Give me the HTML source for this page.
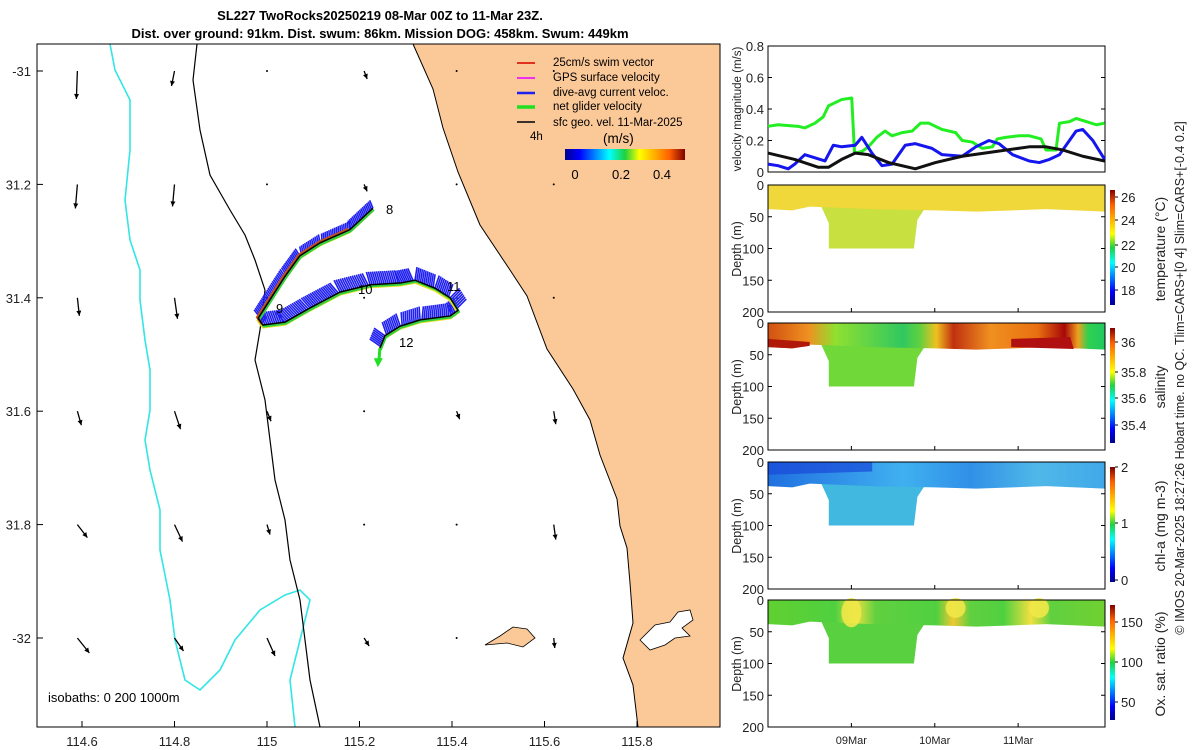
<!DOCTYPE html>
<html><head><meta charset="utf-8"><style>
html,body{margin:0;padding:0;background:#fff}
svg{display:block;font-family:"Liberation Sans","DejaVu Sans",sans-serif}
</style></head><body>
<svg id="fig" width="1200" height="750" viewBox="0 0 1200 750" xmlns="http://www.w3.org/2000/svg">
<defs>
<linearGradient id="jetH" x1="0" x2="1" y1="0" y2="0">
<stop offset="0" stop-color="#00008f"/><stop offset="0.12" stop-color="#0000ff"/><stop offset="0.37" stop-color="#00ffff"/><stop offset="0.5" stop-color="#20d040"/><stop offset="0.62" stop-color="#ffff00"/><stop offset="0.87" stop-color="#ff6000"/><stop offset="1" stop-color="#800000"/></linearGradient>
<linearGradient id="jetV" x1="0" x2="0" y1="1" y2="0">
<stop offset="0" stop-color="#00008f"/><stop offset="0.12" stop-color="#0000ff"/><stop offset="0.37" stop-color="#00ffff"/><stop offset="0.5" stop-color="#20d040"/><stop offset="0.62" stop-color="#ffff00"/><stop offset="0.87" stop-color="#ff6000"/><stop offset="1" stop-color="#800000"/></linearGradient>
<linearGradient id="salS" x1="768" x2="1105" gradientUnits="userSpaceOnUse">
<stop offset="0" stop-color="#d05010"/><stop offset="0.12" stop-color="#f09020"/><stop offset="0.2" stop-color="#90e030"/><stop offset="0.4" stop-color="#30c860"/><stop offset="0.45" stop-color="#60d040"/><stop offset="0.5" stop-color="#f0c020"/><stop offset="0.55" stop-color="#c03010"/><stop offset="0.66" stop-color="#f09020"/><stop offset="0.8" stop-color="#e87010"/><stop offset="0.88" stop-color="#a80808"/><stop offset="0.92" stop-color="#f0a020"/><stop offset="0.95" stop-color="#30d050"/><stop offset="1" stop-color="#20c860"/></linearGradient>
<linearGradient id="oxS" x1="768" x2="1105" gradientUnits="userSpaceOnUse">
<stop offset="0" stop-color="#60d030"/><stop offset="0.2" stop-color="#50d040"/><stop offset="0.26" stop-color="#e8e040"/><stop offset="0.32" stop-color="#60d040"/><stop offset="0.5" stop-color="#50d040"/><stop offset="0.55" stop-color="#f0c830"/><stop offset="0.6" stop-color="#60d040"/><stop offset="0.7" stop-color="#50d040"/><stop offset="0.78" stop-color="#f0e040"/><stop offset="0.84" stop-color="#60d040"/><stop offset="1" stop-color="#70d030"/></linearGradient>
<linearGradient id="chlS" x1="768" x2="1105" gradientUnits="userSpaceOnUse">
<stop offset="0" stop-color="#2070e0"/><stop offset="0.2" stop-color="#3090e8"/><stop offset="0.4" stop-color="#40b0f0"/><stop offset="0.6" stop-color="#3090e8"/><stop offset="0.8" stop-color="#50b8e8"/><stop offset="1" stop-color="#40a8e8"/></linearGradient>
</defs>

<text x="380" y="20" text-anchor="middle" font-size="13" font-weight="bold">SL227 TwoRocks20250219 08-Mar 00Z to 11-Mar 23Z.</text>
<text x="380" y="38" text-anchor="middle" font-size="13" font-weight="bold">Dist. over ground: 91km. Dist. swum: 86km. Mission DOG: 458km. Swum: 449km</text>

<g id="map">
<rect x="37" y="44" width="683" height="683" fill="#fff"/>
<polygon fill="#fbc898" stroke="#000" stroke-width="1" points="413,44 433,89 443,128 458,172 480,225 510,270 527,296 547,349 573,389 590,420 600,455 617,499 620,526 627,548 630,583 633,623 623,658 633,685 638,727 720,727 720,44"/>
<polygon fill="#fff" stroke="#000" stroke-width="0.8" points="640,640 655,625 670,622 678,612 690,610 693,620 682,628 690,636 675,638 665,645 650,650"/>
<polygon fill="#fbc898" stroke="#000" stroke-width="0.8" points="485,645 500,636 513,627 527,629 535,638 523,647 507,643"/>
<polyline fill="none" stroke="#33e5e5" stroke-width="1.6" points="110,44 115,70 130,100 130,150 125,200 130,240 140,270 140,300 145,340 150,370 150,410 145,440 150,470 160,510 160,550 170,600 175,640 185,680 200,690 220,670 235,640 260,610 285,595 300,590 310,600 300,640 290,680 295,727"/>
<polyline fill="none" stroke="#000" stroke-width="1.2" points="197,44 193,80 200,130 210,175 230,210 245,235 255,260 265,290 260,330 255,360 265,400 270,440 275,480 285,520 290,560 300,600 305,640 310,680 320,727"/>
<g id="arrows"></g>
<g id="track"></g>
<text x="386" y="214" font-size="13">8</text>
<text x="276" y="313" font-size="13">9</text>
<text x="358" y="294" font-size="13">10</text>
<text x="447" y="291" font-size="13">11</text>
<text x="399" y="347" font-size="13">12</text>
<g font-size="11.5">
<line x1="517" y1="63" x2="535" y2="63" stroke="#e03020" stroke-width="2"/><text x="553" y="66">25cm/s swim vector</text>
<line x1="517" y1="78" x2="535" y2="78" stroke="#f030f0" stroke-width="2"/><text x="553" y="81">GPS surface velocity</text>
<line x1="517" y1="93" x2="535" y2="93" stroke="#2020f0" stroke-width="2.5"/><text x="553" y="96">dive-avg current veloc.</text>
<line x1="517" y1="107" x2="535" y2="107" stroke="#20e020" stroke-width="3.5"/><text x="553" y="110">net glider velocity</text>
<line x1="517" y1="122" x2="535" y2="122" stroke="#000" stroke-width="1.5"/><text x="553" y="126">sfc geo. vel. 11-Mar-2025</text>
<text x="530" y="140">4h</text>
<text x="603" y="143" font-size="13.5">(m/s)</text>
<rect x="565" y="149" width="120" height="11" fill="url(#jetH)"/>
<text x="575" y="179" text-anchor="middle" font-size="13">0</text>
<text x="621" y="179" text-anchor="middle" font-size="13">0.2</text>
<text x="662" y="179" text-anchor="middle" font-size="13">0.4</text>
</g>
<text x="48" y="702" font-size="13">isobaths: 0  200  1000m</text>
<rect x="37" y="44" width="683" height="683" fill="none" stroke="#000" stroke-width="1"/>
<g id="mapticks" font-size="13" fill="#222"></g>
</g>

<g id="vel"></g>
<g id="sections"></g>

<text transform="translate(1184,378) rotate(-90)" text-anchor="middle" font-size="12.5" fill="#222">© IMOS 20-Mar-2025 18:27:26 Hobart time. no QC. Tlim=CARS+[0 4] Slim=CARS+[-0.4 0.2]</text>
</svg>
<script>
const NS='http://www.w3.org/2000/svg';
function mk(tag,attrs,parent){const e=document.createElementNS(NS,tag);for(const k in attrs)e.setAttribute(k,attrs[k]);parent.appendChild(e);return e;}

// ---------- map data ----------
const lonTicks=[114.6,114.8,115,115.2,115.4,115.6,115.8];
const lonTickLabels=['114.6','114.8','115','115.2','115.4','115.6','115.8'];
const latTicks=[-31,-31.2,-31.4,-31.6,-31.8,-32];
const latTickLabels=['-31','31.2','31.4','31.6','31.8','-32'];
const trackLon=[115.229,115.179,115.115,115.071,115.039,115.006,114.981,114.991,115.039,115.093,115.158,115.223,115.288,115.320,115.363,115.396,115.413,115.396,115.331,115.288,115.255,115.244];
const trackLat=[-31.242,-31.280,-31.303,-31.326,-31.362,-31.404,-31.436,-31.448,-31.443,-31.418,-31.390,-31.377,-31.374,-31.369,-31.383,-31.400,-31.422,-31.432,-31.439,-31.450,-31.467,-31.489];
const arrLon=[114.59,114.8,115.0,115.21,115.41,115.62];
const arrLat=[-31.0,-31.2,-31.4,-31.6,-31.8,-32.0];
const arrU=[[-0.01,-0.03,0,0.03,0,0],[-0.02,-0.02,0,0.03,0,0],[0.02,0.03,0,0,0,0],[0.04,0.06,0.04,0,0.03,0.02],[0.1,0.08,0.03,0,0,0.02],[0.12,0.09,0.08,0.05,0,0.01]];
const arrV=[[-0.28,-0.15,-0.01,-0.08,0,0],[-0.24,-0.22,-0.01,-0.07,0,0],[-0.18,-0.21,0,0,0,0],[-0.14,-0.18,-0.1,0,-0.08,-0.13],[-0.13,-0.17,-0.1,0,-0.01,-0.15],[-0.15,-0.13,-0.18,-0.08,0,-0.1]];

const lx=lon=>267+(lon-115)*462.5;
const ly=lat=>71+(-lat-31)*567;

const mt=document.getElementById('mapticks');
lonTicks.forEach((v,i)=>{const x=lx(v);
 const t=mk('line',{x1:x,y1:727,x2:x,y2:721,stroke:'#000'},mt);
 
 const l=mk('text',{x:x,y:746,'text-anchor':'middle'},mt);l.textContent=lonTickLabels[i];
 });
latTicks.forEach((v,i)=>{const y=ly(v);
 const t=mk('line',{x1:37,y1:y,x2:43,y2:y,stroke:'#000'},mt);
 
 const l=mk('text',{x:31,y:y+5,'text-anchor':'end'},mt);l.textContent=latTickLabels[i];
 });

const ag=document.getElementById('arrows');
arrLat.forEach((la,r)=>arrLon.forEach((lo,c)=>{
 const x0=lx(lo),y0=ly(la),sc=100;const x1=x0+arrU[r][c]*sc,y1=y0-arrV[r][c]*sc;
 const L=Math.hypot(x1-x0,y1-y0);
 const g=mk('g',{},ag);
 
 if(L<2){mk('circle',{cx:x0,cy:y0,r:1,fill:'#000'},g);return;}
 mk('line',{x1:x0,y1:y0,x2:x1,y2:y1,stroke:'#000','stroke-width':1.3},g);
 const ux=(x1-x0)/L,uy=(y1-y0)/L,h=5;
 mk('polygon',{points:`${x1},${y1} ${x1-ux*h-uy*2.5},${y1-uy*h+ux*2.5} ${x1-ux*h+uy*2.5},${y1-uy*h-ux*2.5}`,fill:'#000'},g);
}));

const tg=document.getElementById('track');
const px=trackLon.map(lx),py=trackLat.map(ly);
for(let i=0;i<px.length-1;i++){
 const dx=px[i+1]-px[i],dy=py[i+1]-py[i],L=Math.hypot(dx,dy);let nx=dy/L,ny=-dx/L;if(ny>0){nx=-nx;ny=-ny;}
 const n=Math.max(2,Math.round(L/2));
 for(let k=0;k<n;k++){const f=k/n,x=px[i]+dx*f,y=py[i]+dy*f;const len=(i<7?8:(i<16?13:13));
  const b=mk('line',{x1:x,y1:y,x2:x+nx*len-dx/L*3,y2:y+ny*len-dy/L*3,stroke:'#1f1ff2','stroke-width':1.6},tg);
  }
}
const ptsStr=(ox,oy)=>px.map((x,i)=>`${x+ox},${py[i]+oy}`).join(' ');
let e=mk('polyline',{points:ptsStr(0,2),fill:'none',stroke:'#e8e020','stroke-width':3},tg);

e=mk('polyline',{points:ptsStr(1,1.5),fill:'none',stroke:'#30d040','stroke-width':2},tg);

e=mk('polyline',{points:px.slice(1,8).map((x,i)=>`${x-1},${py[i+1]-1}`).join(' '),fill:'none',stroke:'#c05020','stroke-width':2.5},tg);

e=mk('polyline',{points:ptsStr(0,0),fill:'none',stroke:'#000','stroke-width':1.5},tg);

const ex=px[px.length-1],ey=py[py.length-1];
e=mk('line',{x1:ex,y1:ey,x2:ex-1,y2:ey+14,stroke:'#20e020','stroke-width':3},tg);

mk('polygon',{points:`${ex-2},${ey+19} ${ex-6},${ey+10} ${ex+3},${ey+10}`,fill:'#20e020'},tg);

// ---------- velocity panel data ----------
const greenHours=[0,2.9,8.7,10.6,13.5,15.9,17.4,19.3,21.2,24.1,24.9,27,28.9,31.3,33.7,35.7,38.6,41.5,43.9,46.3,50.1,54,55.9,58.8,61.7,64.6,66,68.4,72.3,75.2,78.6,80,82.9,83.9,86.8,88.7,91.6,94.5,96.9];
const greenVals=[0.29,0.30,0.29,0.28,0.31,0.35,0.42,0.44,0.46,0.47,0.12,0.13,0.16,0.22,0.26,0.23,0.25,0.26,0.31,0.31,0.27,0.25,0.20,0.19,0.15,0.16,0.21,0.22,0.23,0.23,0.21,0.14,0.14,0.31,0.32,0.34,0.32,0.30,0.31];
const blueHours=[0,2.9,5.8,7.7,10.6,13.5,16.4,18.8,21.2,25.1,27,29.9,32.8,35.7,39.5,42.4,47.2,50.1,55.9,59.8,63.6,66.5,70.4,75.2,78.1,81,83.9,85.8,88.7,90.6,93.5,96.9];
const blueVals=[0.05,0.04,0.02,0.05,0.11,0.09,0.07,0.17,0.16,0.17,0.22,0.12,0.04,0.05,0.17,0.18,0.15,0.11,0.10,0.16,0.20,0.18,0.11,0.07,0.06,0.08,0.11,0.17,0.26,0.27,0.20,0.08];
const blackHours=[0,7.7,14.5,17.4,21.2,25.1,28.9,34.7,42.4,48.2,55.9,65.6,75.2,80,84.8,90.6,96.9];
const blackVals=[0.12,0.08,0.03,0.03,0.08,0.12,0.11,0.06,0.02,0.06,0.10,0.13,0.16,0.16,0.14,0.10,0.07];
const velTicks=[0,0.2,0.4,0.6,0.8];
const velTickLabels=['0','0.2','0.4','0.6','0.8'];
const dateTicks=[24,48,72];
const dateTickLabels=['09Mar','10Mar','11Mar'];

const X0=768,X1=1105,HMAX=97;
const tx=h=>X0+h/HMAX*(X1-X0);
const vy=v=>172-v/0.8*126;
const vg=document.getElementById('vel');
mk('rect',{x:X0,y:46,width:X1-X0,height:126,fill:'#fff',stroke:'#000'},vg);
velTicks.forEach((v,i)=>{const y=vy(v);
 let t=mk('line',{x1:X0,y1:y,x2:X0+4,y2:y,stroke:'#000'},vg);
 t=mk('line',{x1:X1,y1:y,x2:X1-4,y2:y,stroke:'#000'},vg);
 const l=mk('text',{x:X0-4,y:y+5,'text-anchor':'end','font-size':13,fill:'#222'},vg);l.textContent=velTickLabels[i];
 });
const vl=mk('text',{transform:'translate(741,109) rotate(-90)','text-anchor':'middle','font-size':11.5,fill:'#222'},vg);vl.textContent='velocity magnitude (m/s)';

function series(hs,vs,col,name){const p=mk('polyline',{points:hs.map((h,i)=>`${tx(h)},${vy(vs[i])}`).join(' '),fill:'none',stroke:col,'stroke-width':3,'stroke-linejoin':'round'},vg);
 }
series(greenHours,greenVals,'#22ee22','net-glider-speed-line');
series(blueHours,blueVals,'#1515ee','dive-avg-current-line');
series(blackHours,blackVals,'#111','surface-geostrophic-line');

// ---------- sections ----------
const panels=[
 {top:185,name:'temperature',label:'temperature (°C)',surf:'#f0d83a',deep:'#c8e040',cbTicks:['26','24','22','20','18'],cbY:[197,220,245,267,290]},
 {top:323,name:'salinity',label:'salinity',surf:'url(#salS)',deep:'#70d838',cbTicks:['36','35.8','35.6','35.4'],cbY:[342,372,398,425]},
 {top:462,name:'chlorophyll',label:'chl-a (mg m-3)',surf:'url(#chlS)',deep:'#40b8e0',cbTicks:['2','1','0'],cbY:[467,523,580]},
 {top:600,name:'oxygen',label:'Ox. sat. ratio (%)',surf:'url(#oxS)',deep:'#58d040',cbTicks:['150','100','50'],cbY:[622,662,702]}];
const depthTicks=[0,50,100,150,200];
const depthTickLabels=['0','50','100','150','200'];
const oxBlobHours=[24,54,78];
const oxBlobDepths=[40,25,25];
const sg=document.getElementById('sections');
panels.forEach((p,pi)=>{
 const g=mk('g',{},sg);
 const dy=d=>p.top+d/200*127;
 mk('rect',{x:X0,y:p.top,width:X1-X0,height:127,fill:'#fff'},g);
 const notch=mk('polygon',{points:`${tx(15)},${dy(30)} ${tx(17.5)},${dy(60)} ${tx(17.5)},${dy(100)} ${tx(42)},${dy(100)} ${tx(43)},${dy(55)} ${tx(46)},${dy(30)}`,fill:p.deep},g);
 
 const s=mk('polygon',{points:`${X0},${dy(0)} ${X1},${dy(0)} ${X1},${dy(42)} ${tx(80)},${dy(38)} ${tx(60)},${dy(42)} ${tx(48)},${dy(40)} ${tx(30)},${dy(38)} ${tx(12)},${dy(34)} ${tx(7)},${dy(40)} ${X0},${dy(38)}`,fill:p.surf},g);
 
 if(pi===1){mk('polygon',{points:`${X0},${dy(25)} ${tx(12)},${dy(30)} ${tx(12)},${dy(36)} ${tx(7)},${dy(40)} ${X0},${dy(38)}`,fill:'#b01808'},g);
  mk('polygon',{points:`${tx(70)},${dy(25)} ${tx(87)},${dy(22)} ${tx(88)},${dy(41)} ${tx(70)},${dy(38)}`,fill:'#b01010'},g);}
 if(pi===2){mk('polygon',{points:`${X0},${dy(0)} ${tx(30)},${dy(0)} ${tx(30)},${dy(15)} ${X0},${dy(20)}`,fill:'#1848d8',opacity:0.7},g);}
 if(pi===3){oxBlobHours.forEach((h,i)=>{const d=oxBlobDepths[i];
  const b=mk('ellipse',{cx:tx(h),cy:dy(d/2),rx:10,ry:(dy(d)-dy(0))/2+2,fill:'#f0e848',opacity:0.9},g);
  });}
 mk('rect',{x:X0,y:p.top,width:X1-X0,height:127,fill:'none',stroke:'#000'},g);
 depthTicks.forEach((d,i)=>{const y=dy(d);
  let t=mk('line',{x1:X0,y1:y,x2:X0+4,y2:y,stroke:'#000'},g);
  t=mk('line',{x1:X1,y1:y,x2:X1-4,y2:y,stroke:'#000'},g);
  const l=mk('text',{x:X0-4,y:y+5,'text-anchor':'end','font-size':13,fill:'#222'},g);l.textContent=depthTickLabels[i];
  });
 const yl=mk('text',{transform:`translate(741,${p.top+64}) rotate(-90)`,'text-anchor':'middle','font-size':12.5,fill:'#222'},g);yl.textContent='Depth (m)';
 
 const cbTop=p.top+5,cbH=115;
 const cb=mk('rect',{x:1110,y:cbTop,width:5,height:cbH,fill:'url(#jetV)'},g);
 
 p.cbTicks.forEach((t,i)=>{mk('line',{x1:1115,y1:p.cbY[i],x2:1118,y2:p.cbY[i],stroke:'#000'},g);
  const l=mk('text',{x:1121,y:p.cbY[i]+5,'font-size':13,fill:'#222'},g);l.textContent=t;
  });
 const cl=mk('text',{transform:`translate(1165,${p.top+64}) rotate(-90)`,'text-anchor':'middle','font-size':14,fill:'#222'},g);cl.textContent=p.label;
 
 if(pi===3){dateTicks.forEach((h,i)=>{const l=mk('text',{x:tx(h),y:744,'text-anchor':'middle','font-size':11,fill:'#222'},g);l.textContent=dateTickLabels[i];
  });}
 dateTicks.forEach(h=>{mk('line',{x1:tx(h),y1:p.top+127,x2:tx(h),y2:p.top+123,stroke:'#000'},g);});
});
</script>
</body></html>
